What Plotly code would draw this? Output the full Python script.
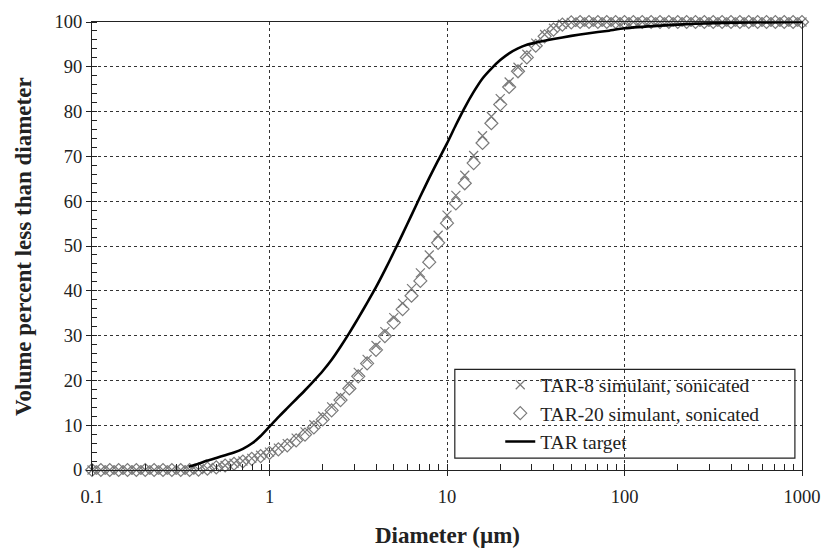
import plotly.graph_objects as go

# ---- data ----
diameters = [
    0.1, 0.1122, 0.1259, 0.1413, 0.1585, 0.1778, 0.1995, 0.2239, 0.2512, 0.2818,
    0.3162, 0.3548, 0.3981, 0.4467, 0.5012, 0.5623, 0.6310, 0.7079, 0.7943, 0.8913,
    1.0, 1.122, 1.259, 1.413, 1.585, 1.778, 1.995, 2.239, 2.512, 2.818,
    3.162, 3.548, 3.981, 4.467, 5.012, 5.623, 6.310, 7.079, 7.943, 8.913,
    10.0, 11.22, 12.59, 14.13, 15.85, 17.78, 19.95, 22.39, 25.12, 28.18,
    31.62, 35.48, 39.81, 44.67, 50.12, 56.23, 63.10, 70.79, 79.43, 89.13,
    100.0, 112.2, 125.9, 141.3, 158.5, 177.8, 199.5, 223.9, 251.2, 281.8,
    316.2, 354.8, 398.1, 446.7, 501.2, 562.3, 631.0, 707.9, 794.3, 891.3,
    1000.0,
]

tar8 = [
    0, 0, 0, 0, 0, 0, 0, 0, 0, 0,
    0, 0, 0.1, 0.3, 0.6, 1.0, 1.5, 2.0, 2.6, 3.3,
    4.0, 4.9, 5.9, 7.1, 8.5, 10.1, 12.0, 14.1, 16.4, 19.0,
    21.8, 24.7, 27.8, 30.9, 34.0, 37.2, 40.5, 44.0, 48.0, 52.4,
    56.9, 61.3, 65.8, 70.2, 74.6, 78.9, 82.9, 86.6, 89.9, 92.8,
    95.3, 97.2, 98.6, 99.5, 99.9, 100, 100, 100, 100, 100,
    100, 100, 100, 100, 100, 100, 100, 100, 100, 100,
    100, 100, 100, 100, 100, 100, 100, 100, 100, 100,
    100,
]

tar20 = [
    0, 0, 0, 0, 0, 0, 0, 0, 0, 0,
    0, 0, 0.1, 0.3, 0.6, 1.0, 1.4, 1.9, 2.5, 3.1,
    3.8, 4.6, 5.5, 6.6, 7.9, 9.5, 11.3, 13.3, 15.6, 18.2,
    20.9, 23.8, 26.8, 29.9, 32.9, 35.9, 38.9, 42.2, 46.4, 50.7,
    55.1, 59.5, 64.0, 68.5, 73.0, 77.4, 81.6, 85.5, 89.0, 92.1,
    94.7, 96.8, 98.3, 99.4, 99.9, 100, 100, 100, 100, 100,
    100, 100, 100, 100, 100, 100, 100, 100, 100, 100,
    100, 100, 100, 100, 100, 100, 100, 100, 100, 100,
    100,
]

target_diam = [
    0.35, 0.3981, 0.4467, 0.5012, 0.5623, 0.6310, 0.7079, 0.7943, 0.8913,
    1.0, 1.122, 1.259, 1.413, 1.585, 1.778, 1.995, 2.239, 2.512, 2.818,
    3.162, 3.548, 3.981, 4.467, 5.012, 5.623, 6.310, 7.079, 7.943, 8.913,
    10.0, 11.22, 12.59, 14.13, 15.85, 17.78, 19.95, 22.39, 25.12, 28.18,
    31.62, 39.81, 50.12, 63.10, 79.43, 100.0, 158.5, 251.2, 501.2, 1000.0,
]
target_pct = [
    0.7, 1.4, 2.1, 2.7, 3.3, 3.9, 4.7, 5.9, 7.6,
    9.7, 11.8, 13.8, 15.8, 17.8, 19.9, 22.1, 24.6, 27.5, 30.6,
    33.9, 37.3, 40.8, 44.6, 48.6, 52.7, 56.9, 61.1, 65.2, 69.1,
    72.9, 77.0, 80.9, 84.4, 87.4, 89.6, 91.5, 93.0, 94.1, 94.9,
    95.4, 96.2, 96.9, 97.5, 98.0, 98.6, 99.2, 99.6, 99.9, 100.0,
]

x_tickvals = [0.1, 1, 10, 100, 1000]
x_ticktext = ["0.1", "1", "10", "100", "1000"]
y_tickvals = [0, 10, 20, 30, 40, 50, 60, 70, 80, 90, 100]

series_names = ["TAR-8 simulant, sonicated", "TAR-20 simulant, sonicated", "TAR target"]

FONT = "Liberation Serif"
GRAY = "#7a7a7a"
INK = "#222"

fig = go.Figure()
fig.add_trace(go.Scatter(
    x=diameters, y=tar8, mode="markers", name=series_names[0],
    marker=dict(symbol="x-thin-open", size=9, color=GRAY, line=dict(color=GRAY, width=1.2)),
    cliponaxis=False,
))
fig.add_trace(go.Scatter(
    x=diameters, y=tar20, mode="markers", name=series_names[1],
    marker=dict(symbol="diamond-open", size=10, color=GRAY, line=dict(color=GRAY, width=1.2)),
    cliponaxis=False,
))
fig.add_trace(go.Scatter(
    x=target_diam, y=target_pct, mode="lines", name=series_names[2],
    line=dict(color="black", width=2.6, shape="spline", smoothing=0.6),
    cliponaxis=False,
))

fig.update_layout(
    width=833, height=558,
    margin=dict(l=92, r=21, t=16, b=88),
    paper_bgcolor="white", plot_bgcolor="white",
    font=dict(family=FONT, size=18.5, color=INK),
    showlegend=True,
    legend=dict(
        x=0.575, y=0.233, xanchor="left", yanchor="top",
        bgcolor="rgba(0,0,0,0)", borderwidth=0,
        font=dict(family=FONT, size=19.5, color=INK),
        itemwidth=30, tracegroupgap=0,
    ),
    shapes=[dict(
        type="rect", xref="paper", yref="paper",
        x0=0.511, x1=0.990, y0=0.0264, y1=0.2247,
        line=dict(color=INK, width=1.2), fillcolor="white", layer="between",
    )],
    annotations=[
        dict(text="<b>Volume percent less than diameter</b>", xref="paper", yref="paper",
             x=-0.0972, y=0.5, xanchor="center", yanchor="middle", textangle=-90,
             showarrow=False, font=dict(family=FONT, size=23, color=INK)),
        dict(text="<b>Diameter (µm)</b>", xref="paper", yref="paper",
             x=0.5, y=-0.1454, xanchor="center", yanchor="middle",
             showarrow=False, font=dict(family=FONT, size=23, color=INK)),
    ],
)

fig.update_xaxes(
    type="log", range=[-1, 3],
    tickvals=x_tickvals, ticktext=x_ticktext,
    ticks="outside", ticklen=5, tickcolor=INK, ticklabelstandoff=5,
    showline=True, linecolor=INK, linewidth=1.2, mirror=True,
    showgrid=True, gridcolor="#333", griddash="dot", gridwidth=1,
    zeroline=False,
    minor=dict(dtick="D1", ticks="inside", ticklen=6, tickcolor=INK, showgrid=False),
    tickfont=dict(family=FONT, size=18.5, color=INK),
)
fig.update_yaxes(
    range=[0, 100], tickvals=y_tickvals,
    ticks="outside", ticklen=5, tickcolor=INK,
    showline=True, linecolor=INK, linewidth=1.2, mirror=True,
    showgrid=True, gridcolor="#333", griddash="dot", gridwidth=1,
    zeroline=False,
    minor=dict(dtick=2, ticks="inside", ticklen=5, tickcolor=INK, showgrid=False),
    tickfont=dict(family=FONT, size=18.5, color=INK),
)

fig.write_html("out.html")
